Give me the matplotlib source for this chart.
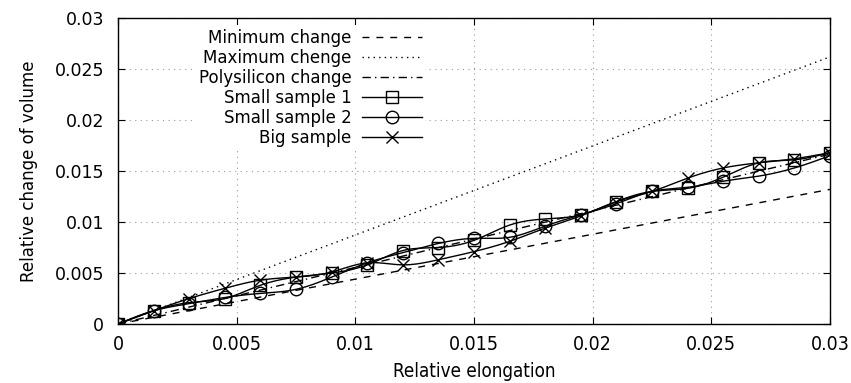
import numpy as np
import matplotlib
matplotlib.use("Agg")
import matplotlib.pyplot as plt
from matplotlib import font_manager as fm

plt.rcParams.update({
    "font.family": "DejaVu Sans",
    "font.size": 12,
    "xtick.direction": "in", "ytick.direction": "in",
    "xtick.top": True, "ytick.right": True,
})

# Relative elongation (x) for the measured samples
strain = [0.0, 0.0015, 0.003, 0.0045, 0.006, 0.0075, 0.009, 0.0105, 0.012, 0.0135,
          0.015, 0.0165, 0.018, 0.0195, 0.021, 0.0225, 0.024, 0.0255, 0.027,
          0.0285, 0.03]
small1 = [0.0, 0.0013, 0.0021, 0.0025, 0.0038, 0.0046, 0.0050, 0.0058, 0.0072,
          0.0075, 0.0082, 0.0097, 0.0103, 0.0107, 0.0120, 0.0130, 0.0133, 0.0144,
          0.0158, 0.0161, 0.0168]
small2 = [0.0, 0.0013, 0.0020, 0.0026, 0.0030, 0.0034, 0.0046, 0.0060, 0.0070,
          0.0079, 0.0084, 0.0085, 0.0096, 0.0107, 0.0118, 0.0130, 0.0134, 0.0140,
          0.0145, 0.0153, 0.0165]
big = [0.0, 0.0013, 0.0025, 0.0035, 0.0043, 0.0046, 0.0051, 0.0060, 0.0058,
       0.0063, 0.0071, 0.0081, 0.0094, 0.0106, 0.0120, 0.0130, 0.0143, 0.0153,
       0.0158, 0.0162, 0.0168]

# theoretical straight lines: slope of volume change vs elongation
line_x = [0.0, 0.03]
slope_min = 0.44
slope_max = 0.873
slope_poly = 0.555


def cspline(x, y, n=400):
    # natural cubic spline, like gnuplot's "smooth csplines"
    x = np.asarray(x, float)
    y = np.asarray(y, float)
    k = len(x)
    h = np.diff(x)
    A = np.zeros((k, k))
    r = np.zeros(k)
    A[0, 0] = A[-1, -1] = 1.0
    for i in range(1, k - 1):
        A[i, i - 1] = h[i - 1]
        A[i, i] = 2 * (h[i - 1] + h[i])
        A[i, i + 1] = h[i]
        r[i] = 6 * ((y[i + 1] - y[i]) / h[i] - (y[i] - y[i - 1]) / h[i - 1])
    m = np.linalg.solve(A, r)
    xs = np.linspace(x[0], x[-1], n)
    j = np.clip(np.searchsorted(x, xs) - 1, 0, k - 2)
    t0 = xs - x[j]
    t1 = x[j + 1] - xs
    hj = h[j]
    ys = (m[j] * t1 ** 3 + m[j + 1] * t0 ** 3) / (6 * hj) \
        + (y[j] / hj - m[j] * hj / 6) * t1 + (y[j + 1] / hj - m[j + 1] * hj / 6) * t0
    return xs, ys


# the x axis text in the original is drawn in a narrow face
narrow = None
names = {f.name for f in fm.fontManager.ttflist}
for fam in ["Liberation Sans Narrow", "DejaVu Sans"]:
    if fam not in names:
        continue
    fp = fm.FontProperties(family=fam, stretch="condensed")
    path = fm.findfont(fp, fallback_to_default=False)
    if "Narrow" in path or "Condensed" in path:
        narrow = fp
        break

fig = plt.figure(figsize=(8.51, 3.83), dpi=100)
ax = fig.add_axes([0.1387, 0.154, 0.8366, 0.799])

lx = np.array(line_x)
ax.plot(lx, slope_min * lx, color="black", lw=1, ls=(0, (5, 5)), label="Minimum change")
ax.plot(lx, slope_max * lx, color="black", lw=1, ls=(0, (1, 3)), label="Maximum chenge")
ax.plot(lx, slope_poly * lx, color="black", lw=1, ls=(0, (6, 3, 1, 3)),
        label="Polysilicon change")

for ys, mk, lab in [(small1, "s", "Small sample 1"),
                    (small2, "o", "Small sample 2"),
                    (big, "x", "Big sample")]:
    sx, sy = cspline(strain, ys)
    ax.plot(sx, sy, color="black", lw=1)
    ax.plot(strain, ys, ls="none", marker=mk, ms=9, mfc="none", mec="black", mew=1)
    ax.plot([], [], color="black", lw=1, marker=mk, ms=9, mfc="none", mec="black",
            mew=1, label=lab)

ax.set_xlim(0, 0.03)
ax.set_ylim(0, 0.03)
ticks = [0, 0.005, 0.01, 0.015, 0.02, 0.025, 0.03]
labels = ["0", "0.005", "0.01", "0.015", "0.02", "0.025", "0.03"]
ax.set_yticks(ticks, labels, fontsize=12.5)
ax.tick_params(axis="y", length=5, width=0.8, pad=10)
if narrow is not None:
    xfont = narrow.copy()
    xfont.set_size(14)
    ax.set_xticks(ticks, labels, fontproperties=xfont)
    lfont = narrow.copy()
    lfont.set_size(13.5)
    ax.set_xlabel("Relative elongation", fontproperties=lfont, labelpad=6)
else:
    ax.set_xticks(ticks, labels, fontsize=12.5)
    ax.set_xlabel("Relative elongation", fontsize=12, labelpad=6)
ax.tick_params(axis="x", length=5, width=0.8, pad=8)
ax.grid(True, color="#999999", ls=(0, (1, 4)), lw=0.8)
for s in ax.spines.values():
    s.set_linewidth(1)
ax.set_ylabel("Relative change of volume", fontsize=12, labelpad=12)

leg = ax.legend(loc="upper left", bbox_to_anchor=(0.097, 1.003), markerfirst=False,
                frameon=True, edgecolor="none", framealpha=1, fancybox=False,
                handlelength=3.6, handletextpad=0.6, labelspacing=0.12,
                borderpad=0.2, fontsize=12)
for t in leg.get_texts():
    t.set_ha("right")
leg._legend_box.align = "right"

fig.savefig("out.png", dpi=100)
